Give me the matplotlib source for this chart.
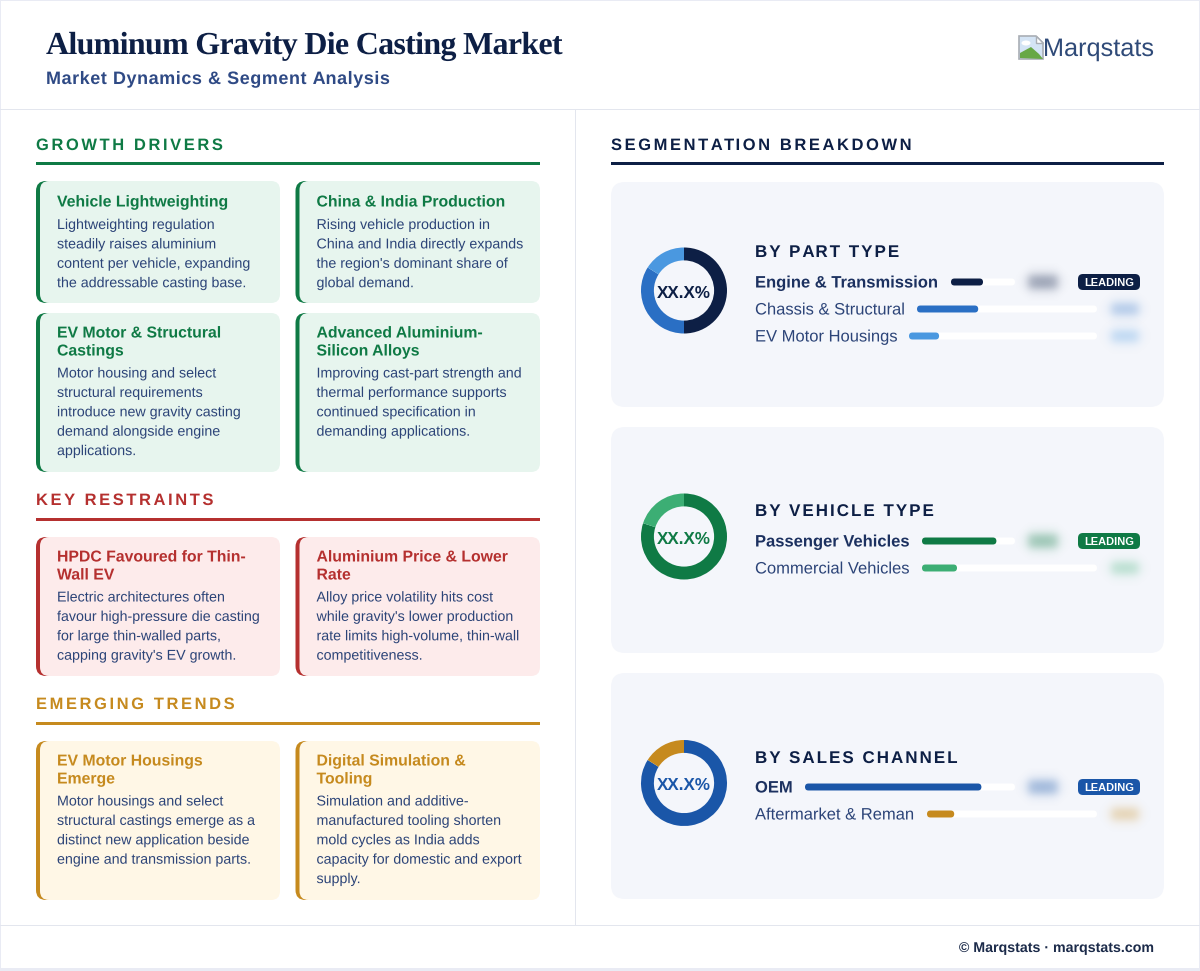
import numpy as np
import matplotlib
matplotlib.use("Agg")
import matplotlib.pyplot as plt
from matplotlib.patches import FancyBboxPatch, Rectangle, Polygon, Ellipse
from matplotlib.text import Text
from matplotlib.textpath import TextPath, text_to_path
from matplotlib.transforms import Affine2D, Bbox
from matplotlib.colors import to_rgba

W, H = 1200, 971
SANS = "Liberation Sans"
SERIF = "Liberation Serif"
NAVY = "#0d1f45"
BODY = "#2c4478"

TITLE = "Aluminum Gravity Die Casting Market"
SUBTITLE = "Market Dynamics & Segment Analysis"
BRAND = "Marqstats"
FOOTER = "© Marqstats · marqstats.com"

growth_cards = [
    ("Vehicle Lightweighting", "Lightweighting regulation\nsteadily raises aluminium\ncontent per vehicle, expanding\nthe addressable casting base."),
    ("China & India Production", "Rising vehicle production in\nChina and India directly expands\nthe region's dominant share of\nglobal demand."),
    ("EV Motor & Structural\nCastings", "Motor housing and select\nstructural requirements\nintroduce new gravity casting\ndemand alongside engine\napplications."),
    ("Advanced Aluminium-\nSilicon Alloys", "Improving cast-part strength and\nthermal performance supports\ncontinued specification in\ndemanding applications."),
]
restraint_cards = [
    ("HPDC Favoured for Thin-\nWall EV", "Electric architectures often\nfavour high-pressure die casting\nfor large thin-walled parts,\ncapping gravity's EV growth."),
    ("Aluminium Price & Lower\nRate", "Alloy price volatility hits cost\nwhile gravity's lower production\nrate limits high-volume, thin-wall\ncompetitiveness."),
]
trend_cards = [
    ("EV Motor Housings\nEmerge", "Motor housings and select\nstructural castings emerge as a\ndistinct new application beside\nengine and transmission parts."),
    ("Digital Simulation &\nTooling", "Simulation and additive-\nmanufactured tooling shorten\nmold cycles as India adds\ncapacity for domestic and export\nsupply."),
]

part_labels = ["Engine & Transmission", "Chassis & Structural", "EV Motor Housings"]
part_values = [50, 34, 16]
part_colors = ["#0d1f45", "#2a6fc4", "#4a98e0"]
vehicle_labels = ["Passenger Vehicles", "Commercial Vehicles"]
vehicle_values = [80, 20]
vehicle_colors = ["#0f7a45", "#3cae74"]
channel_labels = ["OEM", "Aftermarket & Reman"]
channel_values = [84, 16]
channel_colors = ["#1a56a8", "#c68a1e"]


class FineText(Text):
    """A single text object drawn with exact font size and CSS-like letter spacing (px)."""
    def __init__(self, x, y, s, spacing=0.0, **kw):
        super().__init__(x, y, s, **kw)
        self._spacing = spacing

    def _advance(self, s, fp, scale):
        if not s:
            return 0.0
        a = text_to_path.get_text_width_height_descent(s + "H", fp, False)[0]
        b = text_to_path.get_text_width_height_descent("H", fp, False)[0]
        return (a - b) * scale

    def draw(self, renderer):
        if not self.get_visible():
            return
        s = self.get_text()
        px_, py_ = self.get_transform().transform((self._x, self._y))
        fp = self.get_fontproperties()
        scale = self.get_figure().dpi / 72
        if self.get_ha() == "right":
            px_ -= self._advance(s, fp, scale) + len(s) * self._spacing
        gc = renderer.new_gc()
        gc.set_linewidth(0)
        gc.set_snap(False)
        face = to_rgba(self.get_color())
        if self._spacing == 0:
            tr = Affine2D().scale(scale).translate(px_, py_)
            renderer.draw_path(gc, TextPath((0, 0), s, prop=fp), tr, face)
        else:
            for i, ch in enumerate(s):
                if ch == " ":
                    continue
                off = self._advance(s[:i], fp, scale) + i * self._spacing
                tr = Affine2D().scale(scale).translate(px_ + off, py_)
                renderer.draw_path(gc, TextPath((0, 0), ch, prop=fp), tr, face)
        gc.restore()

    def get_window_extent(self, renderer=None, dpi=None):
        b = super().get_window_extent(renderer, dpi)
        return Bbox.from_extents(b.x0, b.y0, b.x1 + len(self.get_text()) * self._spacing, b.y1)


fig = plt.figure(figsize=(W / 100, H / 100), dpi=100, facecolor="#e9ebf4")
ax = fig.add_axes([0, 0, 1, 1])
ax.set_xlim(0, W)
ax.set_ylim(H, 0)
ax.axis("off")


def px(size):
    return size * 0.72


def rrect(x0, y0, x1, y1, r, color, z=1, ec="none", lw=0):
    p = FancyBboxPatch((x0, y0), x1 - x0, y1 - y0, boxstyle=f"round,pad=0,rounding_size={r}",
                       fc=color, ec=ec, lw=lw, zorder=z, mutation_aspect=1)
    ax.add_patch(p)
    return p


def rect(x0, y0, x1, y1, color, z=1):
    ax.add_patch(Rectangle((x0, y0), x1 - x0, y1 - y0, fc=color, ec="none", zorder=z))


def label(x, y, s, size, color, bold=False, family=SANS, spacing=0.0, ha="left", z=6):
    t = FineText(x, y, s, spacing=spacing, fontsize=px(size), color=color, family=family,
                 fontweight="bold" if bold else "normal", va="baseline", ha=ha, zorder=z)
    t.set_transform(ax.transData)
    t.set_clip_on(False)
    ax.add_artist(t)


def blob(x0, y0, x1, y1, color, alpha):
    m = 12
    xs = np.arange(x0 - m, x1 + m + 1, 1.0)
    ys = np.arange(y0 - m, y1 + m + 1, 1.0)
    s = 3.0
    ax_ = (1 / (1 + np.exp(-(xs - x0) / s))) * (1 / (1 + np.exp((xs - x1) / s)))
    ay_ = (1 / (1 + np.exp(-(ys - y0) / s))) * (1 / (1 + np.exp((ys - y1) / s)))
    a = np.outer(ay_, ax_) * alpha
    rgba = np.zeros(a.shape + (4,))
    rgba[..., :3] = matplotlib.colors.to_rgb(color)
    rgba[..., 3] = a
    ax.imshow(rgba, extent=(xs[0], xs[-1], ys[-1], ys[0]), aspect="auto", zorder=5,
              interpolation="bilinear")
    ax.set_xlim(0, W)
    ax.set_ylim(H, 0)


# page
rect(1, 1, 1199, 968, "white", 0)
rect(0, 109, 1200, 110.2, "#e3e6ee", 1)
rect(575, 110, 576.2, 925, "#e3e6ee", 1)
rect(0, 925, 1200, 926.2, "#e3e6ee", 1)

label(46, 54, TITLE, 32, NAVY, bold=True, family=SERIF, spacing=-0.7)
label(46, 84, SUBTITLE, 18, "#2f4a85", bold=True, spacing=0.56)
label(1154, 56, BRAND, 25.3, "#2f4a78", ha="right")

# broken-image icon
ax.add_patch(Polygon([(1019, 36), (1036, 36), (1043, 43), (1043, 59), (1019, 59)], closed=True,
                     fc="#d4e4f5", ec="#a9aeb5", lw=1.2, zorder=3))
ax.add_patch(Ellipse((1026, 43), 9, 5, fc="white", ec="none", zorder=4))
ax.add_patch(Polygon([(1020, 58), (1020, 53), (1031, 47), (1039, 54), (1043, 59)], closed=True,
                     fc="#67a845", ec="none", zorder=4))
ax.add_patch(Polygon([(1036, 36), (1036, 43), (1043, 43)], closed=True, fc="white", ec="#a9aeb5",
                     lw=1, zorder=4))

label(1154, 952, FOOTER, 14.2, "#1c2b4a", bold=True, ha="right")


def section(x0, x1, y_text, y_line, s, color):
    label(x0, y_text, s, 16.5, color, bold=True, spacing=2.6)
    rect(x0, y_line, x1, y_line + 3, color, 2)


def card(x0, x1, y0, y1, head_y, body_y, content, accent, bg):
    rrect(x0, y0, x0 + 30, y1, 10, accent, 2)
    rrect(x0 + 4, y0, x1, y1, 9, bg, 3)
    head, body = content
    for i, line in enumerate(head.split("\n")):
        label(x0 + 21, head_y - 0.5 + i * 18, line, 15.8, accent, bold=True)
    for i, line in enumerate(body.split("\n")):
        label(x0 + 21, body_y + i * 19.4, line, 14.25, BODY)


LX = (36, 280)
RX = (295.5, 540)
GREEN, GREEN_BG = "#0f7a45", "#e7f5ee"
RED, RED_BG = "#b5302f", "#fdebeb"
GOLD, GOLD_BG = "#c68a1e", "#fff7e6"

section(36, 540, 150, 162, "GROWTH DRIVERS", GREEN)
card(*LX, 181, 303, 207, 229, growth_cards[0], GREEN, GREEN_BG)
card(*RX, 181, 303, 207, 229, growth_cards[1], GREEN, GREEN_BG)
card(*LX, 313, 472, 338, 377.5, growth_cards[2], GREEN, GREEN_BG)
card(*RX, 313, 472, 338, 377.5, growth_cards[3], GREEN, GREEN_BG)

section(36, 540, 505, 518, "KEY RESTRAINTS", RED)
card(*LX, 537, 676, 562, 601.5, restraint_cards[0], RED, RED_BG)
card(*RX, 537, 676, 562, 601.5, restraint_cards[1], RED, RED_BG)

section(36, 540, 709, 722, "EMERGING TRENDS", GOLD)
card(*LX, 741, 900, 766, 805.5, trend_cards[0], GOLD, GOLD_BG)
card(*RX, 741, 900, 766, 805.5, trend_cards[1], GOLD, GOLD_BG)

section(611, 1164, 150, 162, "SEGMENTATION BREAKDOWN", NAVY)


def panel(y0, y1, cy, text_dy, title, title_y, labels, values, colors, row_y, track_x, center_color):
    rrect(611, y0, 1164, y1, 14, "#f4f6fb", 1)
    d = fig.add_axes([(684 - 44) / W, 1 - (cy + 44) / H, 88 / W, 88 / H])
    d.pie(values, colors=colors, startangle=90, counterclock=False, radius=1,
          wedgeprops=dict(width=0.3, linewidth=0))
    d.set_xlim(-44 / 43, 44 / 43)
    d.set_ylim(-44 / 43, 44 / 43)
    d.patch.set_alpha(0)
    d.text(0, -text_dy / 43, "XX.X%", ha="center", va="center", fontsize=px(17), fontweight="bold",
           family=SANS, color=center_color)
    label(755, title_y, title, 17, NAVY, bold=True, spacing=2.0)
    for i, (lab, val, col) in enumerate(zip(labels, values, colors)):
        y = row_y + i * 27
        label(755, y + 5.5, lab, 16.55, BODY if i else "#1c3160", bold=(i == 0))
        x0 = track_x[i]
        x1 = 1015 if i == 0 else 1097
        rrect(x0, y - 3.5, x1, y + 3.5, 3.5, "white", 2)
        rrect(x0, y - 3.5, x0 + max(7, (x1 - x0) * val / 100), y + 3.5, 3.5, col, 3)
        if i == 0:
            blob(1028, y - 7, 1058, y + 7, col, 0.42)
            rrect(1078, y - 8, 1140, y + 8, 5, col, 3)
            ax.text(1109, y + 3.8, "LEADING", color="white", fontsize=px(11), fontweight="bold",
                    family=SANS, ha="center", va="baseline", zorder=6)
        else:
            blob(1111, y - 6, 1139, y + 6, col, 0.36)


panel(182, 407, 290.5, 3.5, "BY PART TYPE", 257, part_labels, part_values, part_colors, 282, [951, 917, 909], NAVY)
panel(427, 653, 536.5, 2.5, "BY VEHICLE TYPE", 516, vehicle_labels, vehicle_values, vehicle_colors, 541, [922, 922], GREEN)
panel(673, 899, 783, 2, "BY SALES CHANNEL", 763, channel_labels, channel_values, channel_colors, 787, [805, 927], "#1a56a8")

fig.savefig("out.png", dpi=100, facecolor=fig.get_facecolor())
